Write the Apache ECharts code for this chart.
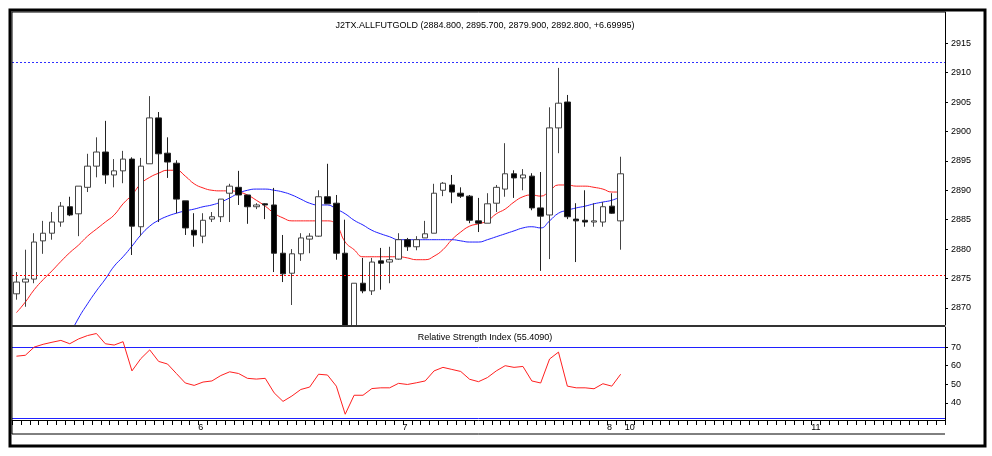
<!DOCTYPE html>
<html>
<head>
<meta charset="utf-8">
<script src="https://cdn.jsdelivr.net/npm/echarts@6/dist/echarts.min.js"></script>
<style>body{margin:0;background:#fff}#c{width:992px;height:456px}</style>
</head>
<body>
<div id="c"></div>
<script>
// open, close, low, high per bar
var ohlc = [
  [2872.4,2874.4,2871.4,2876.1],[2874.4,2874.9,2870.2,2879.9],[2874.9,2881.2,2874.2,2882.7],[2881.4,2882.7,2879.2,2884.8],
  [2882.7,2884.6,2881.6,2886.3],[2884.6,2887.3,2883.8,2888.0],[2887.2,2885.8,2885.6,2888.9],[2886.0,2890.7,2882.2,2890.7],
  [2890.5,2894.1,2889.7,2896.2],[2894.1,2896.5,2892.2,2899.0],[2896.5,2892.6,2891.1,2901.8],[2892.6,2893.3,2890.5,2895.3],
  [2893.3,2895.3,2891.2,2896.7],[2895.3,2883.9,2879.0,2895.6],[2883.8,2894.1,2882.2,2895.5],[2894.5,2902.3,2894.5,2906.0],
  [2902.3,2896.2,2884.6,2903.3],[2896.3,2894.8,2892.1,2899.0],[2894.6,2888.5,2886.1,2895.1],[2888.2,2883.6,2882.4,2888.2],
  [2883.2,2882.4,2880.4,2886.1],[2882.2,2884.9,2881.0,2886.1],[2885.1,2885.5,2884.6,2886.3],[2885.5,2888.5,2884.6,2888.5],
  [2889.5,2890.7,2884.6,2891.1],[2890.5,2889.2,2887.5,2893.3],[2889.2,2887.2,2884.3,2889.2],[2887.2,2887.5,2886.8,2887.8],
  [2887.7,2887.5,2885.1,2887.8],[2887.5,2879.3,2876.1,2890.4],[2879.3,2875.8,2874.4,2882.4],[2875.9,2879.2,2870.5,2880.0],
  [2879.2,2881.9,2878.0,2882.7],[2881.7,2882.2,2879.3,2882.7],[2882.2,2888.9,2882.1,2890.0],[2888.9,2887.7,2887.7,2894.5],
  [2887.8,2879.3,2878.2,2889.2],[2879.3,2865.5,2864.5,2885.0],[2865.5,2874.2,2864.0,2874.2],[2874.2,2872.9,2872.5,2878.5],
  [2872.9,2877.8,2872.2,2878.5],[2878.0,2877.6,2873.1,2880.2],[2877.8,2878.2,2874.2,2880.4],[2878.3,2881.6,2878.2,2882.7],
  [2881.6,2880.4,2879.7,2881.9],[2880.4,2881.6,2879.8,2882.2],[2881.9,2882.6,2881.9,2884.8],[2882.7,2889.5,2882.7,2891.1],
  [2890.0,2891.2,2889.0,2891.4],[2890.9,2889.7,2887.8,2892.6],[2889.5,2889.0,2888.7,2890.5],[2889.0,2884.9,2884.4,2889.2],
  [2884.8,2884.4,2882.9,2888.7],[2884.4,2887.7,2884.4,2889.5],[2887.8,2890.5,2886.3,2890.9],[2890.2,2892.8,2888.9,2898.0],
  [2892.8,2892.1,2888.7,2893.4],[2892.1,2892.6,2890.0,2893.6],[2892.4,2887.0,2886.6,2892.9],[2887.0,2885.6,2876.3,2893.1],
  [2885.8,2900.6,2878.3,2904.1],[2900.6,2904.8,2896.3,2910.8],[2905.0,2885.5,2885.1,2906.2],[2885.1,2884.8,2877.8,2887.8],
  [2884.9,2884.6,2883.8,2890.0],[2884.6,2884.8,2883.8,2887.8],[2884.6,2887.2,2883.8,2888.0],[2887.3,2886.1,2886.0,2889.5],
  [2884.8,2892.8,2879.9,2895.7]
];
var maRed = [
  2869.2,2871.0,2873.1,2874.8,2876.3,2877.9,2879.4,2880.7,2882.2,2883.4,2884.6,2885.8,2887.7,2889.2,2891.1,2892.2,
  2892.9,2893.4,2893.4,2892.4,2891.1,2890.4,2890.0,2889.9,2889.9,2889.7,2889.2,2888.3,2887.3,2886.1,2885.3,
  2884.8,2884.8,2884.8,2884.8,2884.8,2884.1,2881.2,2879.9,2878.7,2878.7,2878.7,2878.7,2878.7,2878.5,2878.2,2878.2,
  2878.8,2879.9,2881.6,2882.9,2883.9,2884.3,2884.8,2886.0,2886.8,2888.0,2888.9,2889.2,2889.0,2889.9,2890.9,2890.9,
  2890.7,2890.7,2890.5,2890.2,2889.7,2889.7
];
var maBlue = [
  null,null,null,null,null,null,
  2865.4,2868.3,2870.7,2872.9,2874.9,2877.1,2878.7,2880.5,2882.4,2883.9,2884.9,2885.6,2886.1,2886.5,2886.8,2887.2,
  2887.5,2888.0,2888.7,2889.5,2890.0,2890.2,2890.2,2890.0,2889.7,2889.2,2888.5,2887.8,2887.5,2887.5,2886.8,2886.0,
  2884.9,2884.1,2883.2,2882.6,2882.1,2881.6,2881.6,2881.6,2881.6,2881.6,2881.6,2881.6,2881.4,2881.2,2881.2,2881.6,
  2882.1,2882.6,2883.1,2883.6,2883.8,2883.6,2884.8,2886.1,2886.6,2887.0,2887.3,2887.7,2888.0,2888.3,2888.9
];
var rsi = [
  65.1,65.6,70.0,71.5,72.6,73.6,71.8,74.4,76.2,77.3,71.8,71.1,72.9,57.2,63.8,68.5,62.3,60.9,55.8,50.7,
  49.4,51.2,51.8,54.7,56.7,55.8,53.2,52.8,53.2,45.4,40.8,43.7,47.2,48.5,55.4,55.0,49.0,33.9,44.1,44.1,
  47.7,48.1,48.1,50.5,49.9,50.8,51.8,57.2,59.1,58.0,56.9,52.7,51.4,53.6,57.2,60.0,59.1,59.6,51.8,50.7,
  63.6,67.3,49.0,48.1,48.1,47.6,50.3,49.0,55.4
];
var slotCount = 105;
var dayLabels = {20: '6', 43: '7', 66: '8', 68: '10', 89: '11'};
var priceTicks = [2870, 2875, 2880, 2885, 2890, 2895, 2900, 2905, 2910, 2915];
var rsiTicks = [40, 50, 60, 70];
var priceTitle = 'J2TX.ALLFUTGOLD (2884.800, 2895.700, 2879.900, 2892.800, +6.69995)';
var rsiTitle = 'Relative Strength Index (55.4090)';

var cats = [];
for (var i = 0; i < slotCount; i++) cats.push(i);

var chart = echarts.init(document.getElementById('c'));
var lbl = {color: '#000', fontSize: 9, fontFamily: 'Liberation Sans'};
chart.setOption({
  animation: false,
  backgroundColor: '#fff',
  title: [
    {text: priceTitle, left: 480, top: 16, textAlign: 'center', textStyle: {fontSize: 9, fontWeight: 'normal', color: '#000', fontFamily: 'Liberation Sans'}},
    {text: rsiTitle, left: 480, top: 328, textAlign: 'center', z: 20, textStyle: {fontSize: 9, fontWeight: 'normal', color: '#000', fontFamily: 'Liberation Sans'}}
  ],
  grid: [
    {left: 12, right: 47, top: 12, height: 313},
    {left: 12, right: 47, top: 327, height: 93}
  ],
  xAxis: [
    {type: 'category', data: cats, gridIndex: 0, boundaryGap: true,
     axisLine: {show: false}, axisTick: {show: false}, axisLabel: {show: false}},
    {type: 'category', data: cats, gridIndex: 1, boundaryGap: true, z: 20,
     axisLine: {show: true, lineStyle: {color: '#000'}},
     axisTick: {show: true, interval: 0, length: 5, lineStyle: {color: '#000'}},
     axisLabel: Object.assign({interval: 0, margin: 3, align: 'left', padding: [0, 0, 0, 4],
       formatter: function (v, idx) { return dayLabels[idx] || ''; }}, lbl)}
  ],
  yAxis: [
    {type: 'value', gridIndex: 0, position: 'right', min: 2867.1, max: 2920.3, splitLine: {show: false},
     axisLine: {show: true, lineStyle: {color: '#000'}},
     axisTick: {show: true, length: 3, customValues: priceTicks, lineStyle: {color: '#000'}},
     axisLabel: Object.assign({customValues: priceTicks, margin: 6, formatter: function (v) { return String(v); }}, lbl)},
    {type: 'value', gridIndex: 1, position: 'right', min: 30.8, max: 80.8, splitLine: {show: false}, z: 20,
     axisLine: {show: true, lineStyle: {color: '#000'}},
     axisTick: {show: true, length: 3, customValues: rsiTicks, lineStyle: {color: '#000'}},
     axisLabel: Object.assign({customValues: rsiTicks, margin: 6}, lbl)}
  ],
  series: [
    {type: 'candlestick', data: ohlc, xAxisIndex: 0, yAxisIndex: 0, barWidth: 6, z: 1,
     itemStyle: {color: '#fff', color0: '#000', borderColor: '#444', borderColor0: '#222', borderWidth: 1},
     markLine: {symbol: 'none', silent: true, label: {show: false},
       data: [
         {yAxis: 2911.8, lineStyle: {color: '#3030ff', type: [2, 2], width: 1}},
         {yAxis: 2875.6, lineStyle: {color: '#ff0000', type: [2, 2], width: 1}}
       ]}},
    {type: 'line', data: maRed, xAxisIndex: 0, yAxisIndex: 0, symbol: 'none', smooth: true, z: 1,
     lineStyle: {color: '#ff2020', width: 1}},
    {type: 'line', data: maBlue, xAxisIndex: 0, yAxisIndex: 0, symbol: 'none', smooth: true, z: 1,
     lineStyle: {color: '#2020ff', width: 1}},
    {type: 'line', data: rsi, xAxisIndex: 1, yAxisIndex: 1, symbol: 'none', z: 10,
     lineStyle: {color: '#ff2020', width: 1},
     markLine: {symbol: 'none', silent: true, label: {show: false},
       lineStyle: {color: '#2020ff', type: 'solid', width: 1},
       data: [{yAxis: 70}, {yAxis: 31.6}]}}
  ],
  graphic: [
    {type: 'rect', shape: {x: 13, y: 326, width: 931, height: 94}, style: {fill: '#fff'}, z: 5},
    {type: 'rect', shape: {x: 10, y: 10, width: 975, height: 436}, style: {fill: 'none', stroke: '#000', lineWidth: 3}, z: 100},
    {type: 'line', shape: {x1: 12, y1: 12, x2: 945, y2: 12}, style: {stroke: '#000', lineWidth: 1}, z: 100},
    {type: 'line', shape: {x1: 12, y1: 12, x2: 12, y2: 434}, style: {stroke: '#000', lineWidth: 1}, z: 100},
    {type: 'line', shape: {x1: 12, y1: 326, x2: 945, y2: 326}, style: {stroke: '#333', lineWidth: 2}, z: 100},
    {type: 'line', shape: {x1: 12, y1: 434, x2: 945, y2: 434}, style: {stroke: '#000', lineWidth: 1}, z: 100}
  ]
});
</script>
</body>
</html>
